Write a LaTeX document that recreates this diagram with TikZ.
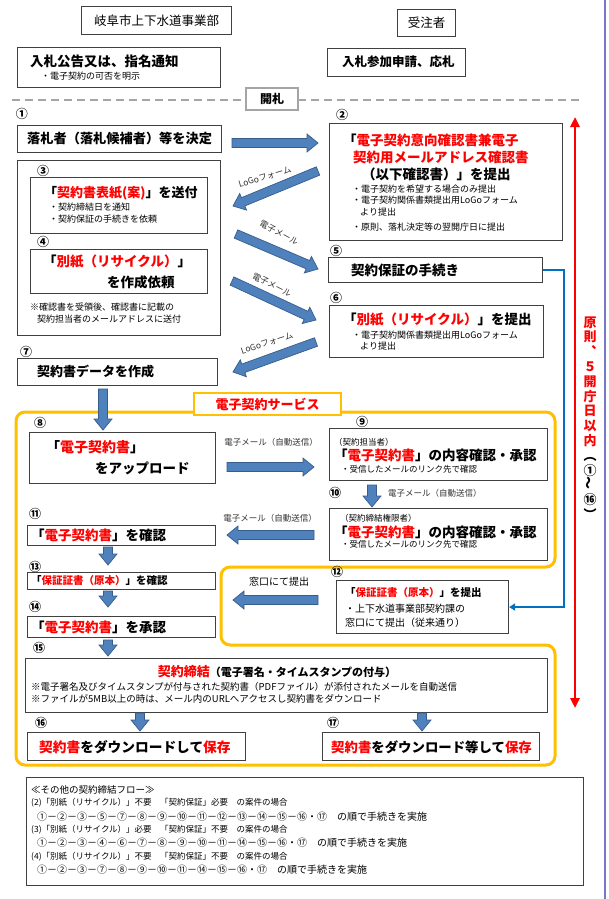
\documentclass[tikz,border=0pt]{standalone}
\usepackage{fontspec}
\usepackage{graphicx}
\setmainfont{Noto Sans CJK JP}
\usetikzlibrary{calc,arrows.meta}

\definecolor{bgray}{RGB}{64,64,64}
\definecolor{ered}{RGB}{255,0,0}
\definecolor{abfill}{RGB}{79,129,189}
\definecolor{abdraw}{RGB}{56,93,138}
\definecolor{ygold}{RGB}{255,192,0}
\definecolor{lblue}{RGB}{0,112,192}
\definecolor{dgray}{RGB}{165,165,165}
\definecolor{edgec}{RGB}{120,120,200}

\newcommand\fs[1]{\fontsize{#1}{#1}\selectfont}
\newcommand\rd[1]{\textcolor{ered}{#1}}

\tikzset{
 box/.style={draw=bgray, line width=1.1pt, anchor=north west, inner sep=0pt, fill=white},
 txt/.style={inner sep=0pt, anchor=west, text=black},
 num/.style={inner sep=0pt, font=\fs{12}\bfseries},
 fatarrow/.style={fill=abfill, draw=abdraw, line width=0.7pt, line join=miter},
 small/.style={txt, font=\fs{9}},
 mid/.style={txt, font=\fs{8.5}},
 big/.style={txt, font=\fs{13.5}\bfseries},
 albl/.style={inner sep=0pt, font=\fs{8.5}, text=black!80},
}

\newcommand\bx[5]{\node[box, minimum width=#4, minimum height=#5] (#1) at (#2,#3) {};}
\newcommand\fatarr[2]{%
 \coordinate (fan) at ($(#2)!11pt!(#1)$);
 \draw[fatarrow] ($(#1)!4.5pt!90:(#2)$) -- ($(fan)!4.5pt!90:(#2)$) -- ($(fan)!9pt!90:(#2)$) -- (#2) -- ($(fan)!9pt!-90:(#2)$) -- ($(fan)!4.5pt!-90:(#2)$) -- ($(#1)!4.5pt!-90:(#2)$) -- cycle;}

\begin{document}
\begin{tikzpicture}[x=1pt,y=-1pt]
\useasboundingbox[fill=white] (0,0) rectangle (608,899);
\draw[edgec, line width=2.5pt] (605,0) -- (605,899);

% header
\bx{hdrL}{81}{6}{150}{28}
\node[inner sep=0, font=\fs{12.5}] (hdrLt) at (hdrL.center) {岐阜市上下水道事業部};
\bx{hdrR}{397}{9}{58}{27}
\node[inner sep=0, font=\fs{12.5}] (hdrRt) at (hdrR.center) {受注者};

\bx{notice}{17}{47}{203}{40}
\node[big] (noticeT) at (30,61) {入札公告又は、指名通知};
\node[small] (noticeS) at (41,76) {・電子契約の可否を明示};
\bx{apply}{327}{48}{138}{28}
\node[txt, font=\fs{12.5}\bfseries] (applyT) at (342,62) {入札参加申請、応札};

\draw[dgray, line width=1.6pt, dash pattern=on 8pt off 5pt] (12,100) -- (583,100);
\node[draw=dgray, line width=2pt, fill=white, minimum width=52, minimum height=22, inner sep=0, font=\fs{12}\bfseries] (kaisatsu) at (272,99) {開札};

% red double arrow and vertical text
\coordinate (rtop) at (575,117);
\coordinate (rbot) at (575,708);
\draw[ered, line width=2.5pt, {Triangle[length=10pt,width=9pt]}-{Triangle[length=10pt,width=9pt]}] (rtop) -- (rbot);
\node[inner sep=0, align=center, font=\fontsize{13}{14.8}\selectfont\bfseries, text=ered] (vtext) at (590,418)
 {原\\則\\︑\\５\\開\\庁\\日\\以\\内\\\textcolor{black}{︵}\\\textcolor{black}{①}\\\textcolor{black}{\rotatebox{90}{～}}\\\textcolor{black}{⑯}\\\textcolor{black}{︶}};

% step 1
\node[num] (n1) at (22,114) {①};
\bx{box1}{17}{125}{204}{27}
\node[txt, font=\fs{13.2}\bfseries] (box1t) at (27,138) {落札者（落札候補者）等を決定};

% step 2
\node[num] (n2) at (342,115) {②};
\bx{box2}{329}{123}{233}{117}
\node[big] (box2a) at (343,140) {「\rd{電子契約意向確認書兼電子}};
\node[big] (box2b) at (353,157) {\rd{契約用メールアドレス確認書}};
\node[big] (box2c) at (362,174) {（以下確認書）」を提出};
\node[small] (box2d) at (352,189) {・電子契約を希望する場合のみ提出};
\node[small] (box2e) at (352,200) {・電子契約関係書類提出用LoGoフォーム};
\node[small] (box2f) at (360,212) {より提出};
\node[small] (box2g) at (352,227) {・原則、落札決定等の翌開庁日に提出};

% steps 3,4
\bx{outer34}{17}{160}{203}{175}
\node[num] (n3) at (43,171) {③};
\bx{box3}{30}{177}{177}{56}
\node[txt, font=\fs{13}\bfseries] (box3a) at (44,193) {「\rd{契約書表紙(案)}」を送付};
\node[small] (box3b) at (49,207) {・契約締結日を通知};
\node[small] (box3c) at (49,219) {・契約保証の手続きを依頼};
\node[num] (n4) at (43,242) {④};
\bx{box4}{30}{249}{177}{44}
\node[big] (box4a) at (43,262) {「\rd{別紙（リサイクル）}」};
\node[big] (box4b) at (107,282) {を作成依頼};
\node[small] (note4a) at (30,307) {※確認書を受領後、確認書に記載の};
\node[small] (note4b) at (37,319) {契約担当者のメールアドレスに送付};

% steps 5,6
\node[num] (n5) at (336,251) {⑤};
\bx{box5}{328}{257}{214}{25}
\node[big] (box5t) at (351,270) {契約保証の手続き};
\node[num] (n6) at (336,298) {⑥};
\bx{box6}{329}{305}{214}{52}
\node[big] (box6a) at (343,320) {「\rd{別紙（リサイクル）}」を提出};
\node[small] (box6b) at (352,335) {・電子契約関係書類提出用LoGoフォーム};
\node[small] (box6c) at (360,346) {より提出};

% step 7
\node[num] (n7) at (26,352) {⑦};
\bx{box7}{17}{358}{200}{27}
\node[txt, font=\fs{13}\bfseries] (box7t) at (37,372) {契約書データを作成};

% arrows between columns (upper part)
\coordinate (a1s) at (232,143); \coordinate (a1e) at (318,143);
\fatarr{a1s}{a1e}
\coordinate (a2s) at (318,171); \coordinate (a2e) at (233,206);
\fatarr{a2s}{a2e}
\node[albl, rotate=16] (a2l) at (265,177) {LoGoフォーム};
\coordinate (a3s) at (236,234); \coordinate (a3e) at (318,269);
\fatarr{a3s}{a3e}
\node[albl, rotate=-28] (a3l) at (279,233) {電子メール};
\coordinate (a4s) at (232,281); \coordinate (a4e) at (316,320);
\fatarr{a4s}{a4e}
\node[albl, rotate=-27] (a4l) at (272,285) {電子メール};
\coordinate (a5s) at (316,342); \coordinate (a5e) at (233,372);
\fatarr{a5s}{a5e}
\node[albl, rotate=18] (a5l) at (267,343) {LoGoフォーム};

% yellow frame
\draw[ygold, line width=3pt, rounded corners=9pt] (16,600) -- (16,412) -- (555,412) -- (555,567) -- (221,567) -- (221,645) -- (555,645) -- (555,765) -- (16,765) -- cycle;
\node[draw=ygold, line width=2.5pt, fill=white, minimum width=147, minimum height=22, inner sep=0, font=\fs{13}\bfseries, text=ered] (svc) at (267.5,404) {電子契約サービス};

\coordinate (a7s) at (103,389); \coordinate (a7e) at (103,430);
\fatarr{a7s}{a7e}

% step 8
\node[num] (n8) at (40,423) {⑧};
\bx{box8}{29}{432}{186}{51}
\node[txt, font=\fs{14}\bfseries] (box8a) at (46,447) {「\rd{電子契約書}」};
\node[big] (box8b) at (95,468) {をアップロード};
\coordinate (a8s) at (227,467); \coordinate (a8e) at (314,467);
\fatarr{a8s}{a8e}
\node[albl] (a8l) at (271,442) {電子メール（自動送信）};

% step 9
\node[num] (n9) at (362,422) {⑨};
\bx{box9}{329}{428}{218}{52}
\node[mid] (box9a) at (334,442) {（契約担当者）};
\node[big] (box9b) at (334,455) {「\rd{電子契約書}」の内容確認・承認};
\node[mid] (box9c) at (341,469) {・受信したメールのリンク先で確認};

% step 10
\node[num] (n10) at (335,493) {⑩};
\coordinate (a9s) at (372,485); \coordinate (a9e) at (372,507);
\fatarr{a9s}{a9e}
\node[albl, anchor=west] (a9l) at (388,493) {電子メール（自動送信）};
\bx{box10}{329}{508}{218}{52}
\node[mid] (box10a) at (340,518) {（契約締結権限者）};
\node[big] (box10b) at (334,532) {「\rd{電子契約書}」の内容確認・承認};
\node[mid] (box10c) at (341,544) {・受信したメールのリンク先で確認};

% step 11
\node[num] (n11) at (35,514) {⑪};
\bx{box11}{27}{525}{188}{20}
\node[big] (box11t) at (31,535) {「\rd{電子契約書}」を確認};
\coordinate (a10s) at (314,535); \coordinate (a10e) at (227,535);
\fatarr{a10s}{a10e}
\node[albl] (a10l) at (270,518) {電子メール（自動送信）};
\coordinate (a11s) at (108,547); \coordinate (a11e) at (108,565);
\fatarr{a11s}{a11e}

% step 13
\node[num] (n13) at (35,567) {⑬};
\bx{box13}{27}{572}{188}{17}
\node[txt, font=\fs{10.5}\bfseries] (box13t) at (31,581) {「\rd{保証証書（原本）}」を確認};
\coordinate (a13s) at (108,591); \coordinate (a13e) at (108,607);
\fatarr{a13s}{a13e}

% step 14
\node[num] (n14) at (35,607) {⑭};
\bx{box14}{27}{616}{188}{21}
\node[big] (box14t) at (31,627) {「\rd{電子契約書}」を承認};

% step 12
\node[num] (n12) at (337,572) {⑫};
\bx{box12}{336}{580}{172}{53}
\node[txt, font=\fs{10.5}\bfseries] (box12a) at (345,593) {「\rd{保証証書（原本）}」を提出};
\node[txt, font=\fs{10}] (box12b) at (345,609) {・上下水道事業部契約課の};
\node[txt, font=\fs{10}] (box12c) at (345,623) {窓口にて提出（従来通り）};
\coordinate (a12s) at (318,600); \coordinate (a12e) at (233,600);
\fatarr{a12s}{a12e}
\node[inner sep=0, font=\fs{10}] (a12l) at (279,582) {窓口にて提出};

% blue connector 5 -> 12
\draw[lblue, line width=2.2pt, -{Triangle[length=6pt,width=7pt]}] (box5.east) -- ++(21,0) |- (box12.east);

% step 15
\coordinate (a14s) at (108,640); \coordinate (a14e) at (108,656);
\fatarr{a14s}{a14e}
\node[num] (n15) at (39,648) {⑮};
\bx{box15}{25}{658}{522}{54}
\node[inner sep=0, font=\bfseries] (box15a) at (277,672) {\fs{13}\rd{契約締結}\fs{11}（電子署名・タイムスタンプの付与）};
\node[txt, font=\fs{9.5}] (box15b) at (31,687) {※電子署名及びタイムスタンプが付与された契約書（PDFファイル）が添付されたメールを自動送信};
\node[txt, font=\fs{9.5}] (box15c) at (31,699) {※ファイルが5MB以上の時は、メール内のURLへアクセスし契約書をダウンロード};
\coordinate (a15s) at (140,713); \coordinate (a15e) at (140,731);
\fatarr{a15s}{a15e}
\coordinate (a16s) at (422,713); \coordinate (a16e) at (422,731);
\fatarr{a16s}{a16e}

% steps 16,17
\node[num] (n16) at (41,723) {⑯};
\bx{box16}{27}{732}{218}{28}
\node[txt, font=\fs{13.7}\bfseries] (box16t) at (39,747) {\rd{契約書}をダウンロードして\rd{保存}};
\node[num] (n17) at (333,723) {⑰};
\bx{box17}{322}{732}{217}{28}
\node[txt, font=\fs{13.4}\bfseries] (box17t) at (331,747) {\rd{契約書}をダウンロード等して\rd{保存}};

% other flows
\bx{other}{26}{777}{557}{108}
\node[txt, font=\fs{9.5}] (o0) at (31,790) {≪その他の契約締結フロー≫};
\node[txt, font=\fs{8.5}] (o1) at (31,803) {(2)「別紙（リサイクル）」不要　「契約保証」必要　の案件の場合};
\node[txt, font=\fs{10}] (o2) at (37,817) {①－②－③－⑤－⑦－⑧－⑨－⑩－⑪－⑫－⑬－⑭－⑮－⑯・⑰　の順で手続きを実施};
\node[txt, font=\fs{8.5}] (o3) at (31,830) {(3)「別紙（リサイクル）」必要　「契約保証」不要　の案件の場合};
\node[txt, font=\fs{10}] (o4) at (37,843) {①－②－③－④－⑥－⑦－⑧－⑨－⑩－⑪－⑭－⑮－⑯・⑰　の順で手続きを実施};
\node[txt, font=\fs{8.5}] (o5) at (31,857) {(4)「別紙（リサイクル）」不要　「契約保証」不要　の案件の場合};
\node[txt, font=\fs{10}] (o6) at (37,870) {①－②－③－⑦－⑧－⑨－⑩－⑪－⑭－⑮－⑯・⑰　の順で手続きを実施};
\end{tikzpicture}
\end{document}
